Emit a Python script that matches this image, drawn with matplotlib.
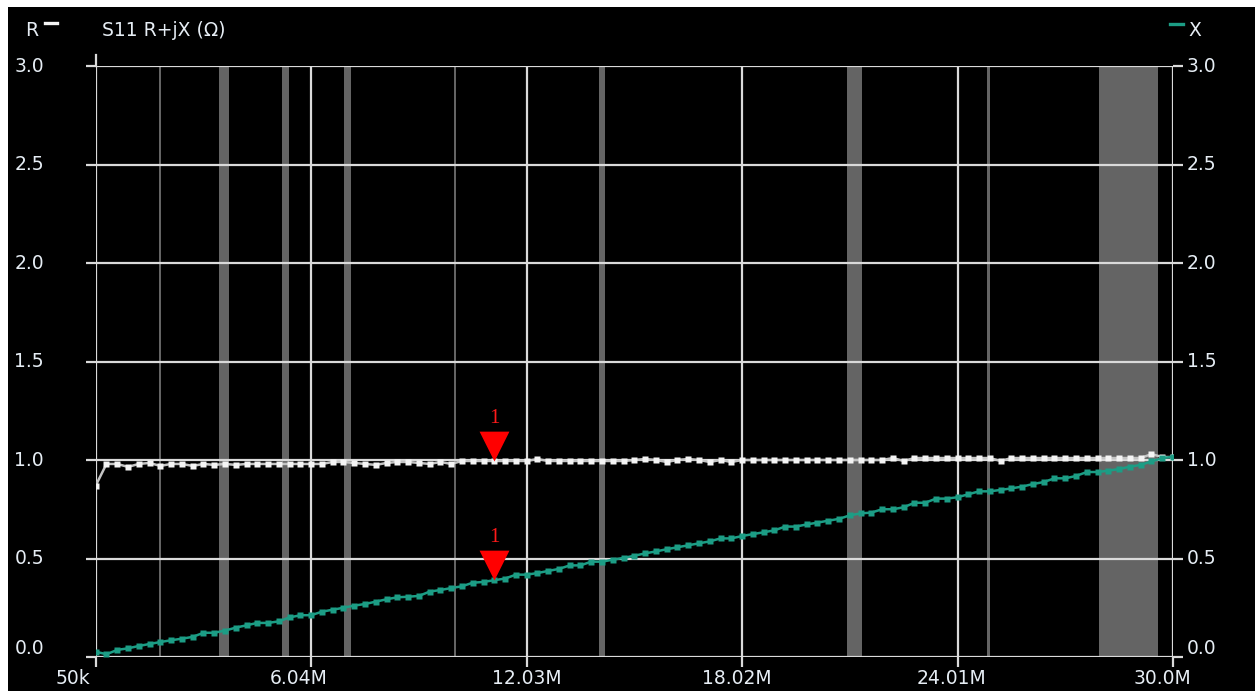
import numpy as np
import matplotlib
matplotlib.use("Agg")
import matplotlib.pyplot as plt
from matplotlib.patches import Rectangle
from matplotlib.lines import Line2D
from matplotlib.markers import MarkerStyle
from matplotlib.transforms import blended_transform_factory, offset_copy

# Sweep definition (MHz)
SWEEP_START = 0.05
SWEEP_STOP = 30.0
SWEEP_POINTS = 101

# S11 resistance (R) per sweep point, ohms
r_values = [
    0.87, 0.98, 0.98, 0.965, 0.98, 0.985, 0.97, 0.98, 0.98, 0.97,
    0.98, 0.975, 0.98, 0.975, 0.98, 0.98, 0.98, 0.98, 0.98, 0.98,
    0.98, 0.98, 0.99, 0.99, 0.985, 0.98, 0.975, 0.985, 0.99, 0.99,
    0.985, 0.98, 0.99, 0.98, 0.995, 0.995, 0.995, 0.995, 0.995, 0.995,
    0.995, 1.005, 0.995, 0.995, 0.995, 0.995, 0.995, 0.995, 0.995, 0.995,
    1.0, 1.005, 1.0, 0.99, 1.0, 1.005, 1.0, 0.99, 1.0, 0.99,
    1.0, 1.0, 1.0, 1.0, 1.0, 1.0, 1.0, 1.0, 1.0, 1.0,
    1.0, 1.0, 1.0, 1.0, 1.01, 0.995, 1.01, 1.01, 1.01, 1.01,
    1.01, 1.01, 1.01, 1.01, 0.995, 1.01, 1.01, 1.01, 1.01, 1.01,
    1.01, 1.01, 1.01, 1.01, 1.01, 1.01, 1.01, 1.01, 1.03, 1.015,
    1.015,
]

# S11 reactance (X) per sweep point, ohms
x_values = [
    0.027, 0.014, 0.036, 0.044, 0.056, 0.066, 0.076, 0.085, 0.093, 0.102,
    0.123, 0.123, 0.134, 0.149, 0.161, 0.173, 0.173, 0.181, 0.201, 0.212,
    0.212, 0.230, 0.240, 0.250, 0.261, 0.269, 0.281, 0.293, 0.303, 0.306,
    0.310, 0.332, 0.340, 0.350, 0.359, 0.377, 0.381, 0.390, 0.398, 0.418,
    0.418, 0.426, 0.437, 0.447, 0.465, 0.465, 0.484, 0.484, 0.494, 0.503,
    0.514, 0.526, 0.536, 0.547, 0.557, 0.567, 0.577, 0.587, 0.602, 0.602,
    0.614, 0.624, 0.633, 0.643, 0.662, 0.662, 0.673, 0.682, 0.692, 0.701,
    0.719, 0.729, 0.733, 0.750, 0.750, 0.760, 0.783, 0.783, 0.804, 0.804,
    0.811, 0.826, 0.841, 0.841, 0.848, 0.856, 0.865, 0.878, 0.888, 0.907,
    0.907, 0.919, 0.939, 0.939, 0.946, 0.954, 0.966, 0.975, 0.993, 1.009,
    1.017,
]

# Amateur band shading (MHz)
band_starts = [1.80, 3.47, 5.23, 6.95, 10.02, 14.03, 20.93, 24.84, 27.95]
band_stops = [1.86, 3.76, 5.42, 7.14, 10.08, 14.22, 21.35, 24.90, 29.58]

x_tick_values = [0.05, 6.04, 12.03, 18.02, 24.01, 30.0]
x_tick_labels = ["50k", "6.04M", "12.03M", "18.02M", "24.01M", "30.0M"]
y_tick_values = [0.0, 0.5, 1.0, 1.5, 2.0, 2.5, 3.0]
y_tick_labels = ["0.0", "0.5", "1.0", "1.5", "2.0", "2.5", "3.0"]

marker_index = 37
marker_label = "1"

freqs = np.linspace(SWEEP_START, SWEEP_STOP, SWEEP_POINTS)

W, H = 1255, 691
TEXT = "#e6edf4"
GRID = "#dadada"
BAND = "#646464"
R_COLOR = "#f4f4f4"
R_LINE = "#c4c4c4"
X_COLOR = "#1c9d85"
FONT = "DejaVu Sans"
FS = 13.5

fig = plt.figure(figsize=(W / 100, H / 100), dpi=100, facecolor="white")
fig.add_artist(Rectangle((8 / W, 0), 1 - 8 / W, 1 - 7 / H, transform=fig.transFigure,
                         facecolor="black", edgecolor="none", zorder=-10))

left_px, right_px, top_px, bottom_px = 95.7, 1173.0, 66.0, 657.0
ax = fig.add_axes([left_px / W, 1 - bottom_px / H, (right_px - left_px) / W,
                   (bottom_px - top_px) / H])
ax.set_facecolor("black")
ax.set_xlim(SWEEP_START, SWEEP_STOP)
ax.set_ylim(0, 3.0)
for s in ax.spines.values():
    s.set_visible(False)

# bands
for b0, b1 in zip(band_starts, band_stops):
    ax.axvspan(b0, b1, color=BAND, lw=0, zorder=0.5)

# grid + ticks
ax.set_xticks(x_tick_values)
ax.set_yticks(y_tick_values)
ax.tick_params(axis="both", which="both", color=GRID, width=1.6,
               length=7.5, direction="out", labelbottom=False, labelleft=False)
ax.tick_params(axis="y", left=True, right=True)
ax.grid(True, color=GRID, lw=1.6, zorder=1)
ax.set_axisbelow(True)
# left axis line poking above the top
ax.plot([SWEEP_START, SWEEP_START], [3.0, 3.0 + 11 * 3.0 / 591], color=GRID,
        lw=1.6, clip_on=False, zorder=1)

# traces
ax.plot(freqs, r_values, color=R_LINE, lw=1.8, zorder=3)
ax.plot(freqs, r_values, ls="none", marker="s", ms=5.0, mfc=R_COLOR, mec="none", zorder=4)
ax.plot(freqs, x_values, color=X_COLOR, lw=1.8, zorder=5)
ax.plot(freqs, x_values, ls="none", marker="s", ms=5.0, mfc=X_COLOR, mec="none", zorder=6)

# marker 1 on both traces
tri = MarkerStyle([(0, 0), (-0.5, 1), (0.5, 1), (0, 0)])
mf = freqs[marker_index]
for val in (r_values[marker_index], x_values[marker_index]):
    ax.plot([mf], [val], ls="none", marker=tri, ms=43, mfc="#ff0000", mec="none", zorder=8)
    ax.annotate(marker_label, (mf, val), xytext=(0, 30.5), textcoords="offset points",
                ha="center", va="center", color="#ff1a1a", fontsize=15,
                family="Liberation Serif", zorder=9)

# x tick labels
x_offsets = [-23, -12, 0, -5, -6, -11]
xtrans = blended_transform_factory(ax.transData, ax.transAxes)
for v, lab, dx in zip(x_tick_values, x_tick_labels, x_offsets):
    ax.text(v, 0, lab, transform=offset_copy(xtrans, fig=fig, x=dx, y=-21, units="dots"),
            ha="center", va="center", color=TEXT, fontsize=FS, family=FONT, clip_on=False)

# y tick labels on both sides
ytrans = blended_transform_factory(ax.transAxes, ax.transData)
for v, lab in zip(y_tick_values, y_tick_labels):
    dy = 9 if v == 0.0 else 0
    ax.text((44 - left_px) / (right_px - left_px), v, lab,
            transform=offset_copy(ytrans, fig=fig, y=dy, units="dots"),
            ha="right", va="center", color=TEXT, fontsize=FS, family=FONT, clip_on=False)
    ax.text((1187 - left_px) / (right_px - left_px), v, lab,
            transform=offset_copy(ytrans, fig=fig, y=dy, units="dots"),
            ha="left", va="center", color=TEXT, fontsize=FS, family=FONT, clip_on=False)

# header
fig.text(25 / W, 1 - 30 / H, "R", color=TEXT, fontsize=FS, family=FONT, va="center", ha="left")
fig.add_artist(Line2D([45 / W, 57 / W], [1 - 23 / H, 1 - 23 / H], color="#f4f4f4", lw=2.4,
                      transform=fig.transFigure))
fig.text(102 / W, 1 - 30 / H, "S11 R+jX (Ω)", color=TEXT, fontsize=FS, family=FONT,
         va="center", ha="left")
fig.add_artist(Line2D([1170 / W, 1183 / W], [1 - 24 / H, 1 - 24 / H], color=X_COLOR, lw=2.4,
                      transform=fig.transFigure))
fig.text(1188 / W, 1 - 30 / H, "X", color=TEXT, fontsize=FS, family=FONT, va="center", ha="left")

fig.savefig("out.png", dpi=100, facecolor=fig.get_facecolor())
